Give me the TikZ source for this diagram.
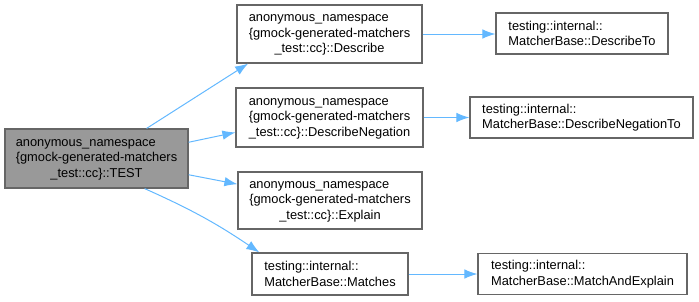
\documentclass[tikz,border=0pt]{standalone}
\usepackage{fontspec}
\setmainfont{Liberation Sans}
\usepackage{tikz}
\usetikzlibrary{arrows.meta}
\tikzset{>={Latex[length=13pt,width=9.5pt]}}
\definecolor{calledge}{HTML}{63B8FF}
\definecolor{boxline}{HTML}{666666}
\definecolor{rootfill}{HTML}{999999}
\tikzset{
  fn/.style={draw=boxline, line width=1.2pt, fill=white, inner sep=0pt, align=left,
    font=\fontsize{12.85}{15.6}\selectfont},
  rootfn/.style={fn, fill=rootfill},
  call/.style={->, calledge, line width=1pt},
}
\newcommand{\anonfn}[1]{\begin{tabular}{@{}l@{}}anonymous\_namespace\\\{gmock-generated-matchers\\\multicolumn{1}{@{}c@{}}{\_test::cc\}::#1}\end{tabular}}

\begin{document}
\begin{tikzpicture}[x=1pt, y=-1pt]
            \useasboundingbox (0, 0) rectangle (699, 301);
            \node[rootfn, minimum width=183pt, minimum height=59pt] (test) at (96.5, 158.5) {\anonfn{TEST}};
            \node[fn, minimum width=185pt, minimum height=58pt] (desc) at (329.5, 34) {\anonfn{Describe}};
            \node[fn, minimum width=187pt, minimum height=59pt] (descneg) at (329.5, 117.5) {\anonfn{DescribeNegation}};
            \node[fn, minimum width=184pt, minimum height=57pt] (explain) at (330, 200.5) {\anonfn{Explain}};
            \node[fn, minimum width=156pt, minimum height=42pt] (matches) at (330, 274) {testing::internal::\\MatcherBase::Matches};
            \node[fn, minimum width=172pt, minimum height=41pt] (descto) at (582, 33.5) {testing::internal::\\MatcherBase::DescribeTo};
            \node[fn, minimum width=223pt, minimum height=41pt] (descnegto) at (581.5, 117.5) {testing::internal::\\MatcherBase::DescribeNegationTo};
            \node[fn, minimum width=209pt, minimum height=41pt] (matchexpl) at (582.5, 274) {testing::internal::\\MatcherBase::MatchAndExplain};
            \draw[call] (test.31) -- (desc.200);
            \draw[call] (test.10) -- (descneg.189);
            \draw[call] (test.-10) -- (explain.170);
            \draw[call] (test.-32) to[bend left=5] (matches.163);
            \draw[call] (desc.east) -- (descto.west |- desc.east);
            \draw[call] (descneg.east) -- (descnegto.west);
            \draw[call] (matches.east) -- (matchexpl.west);
        \end{tikzpicture}
\end{document}
